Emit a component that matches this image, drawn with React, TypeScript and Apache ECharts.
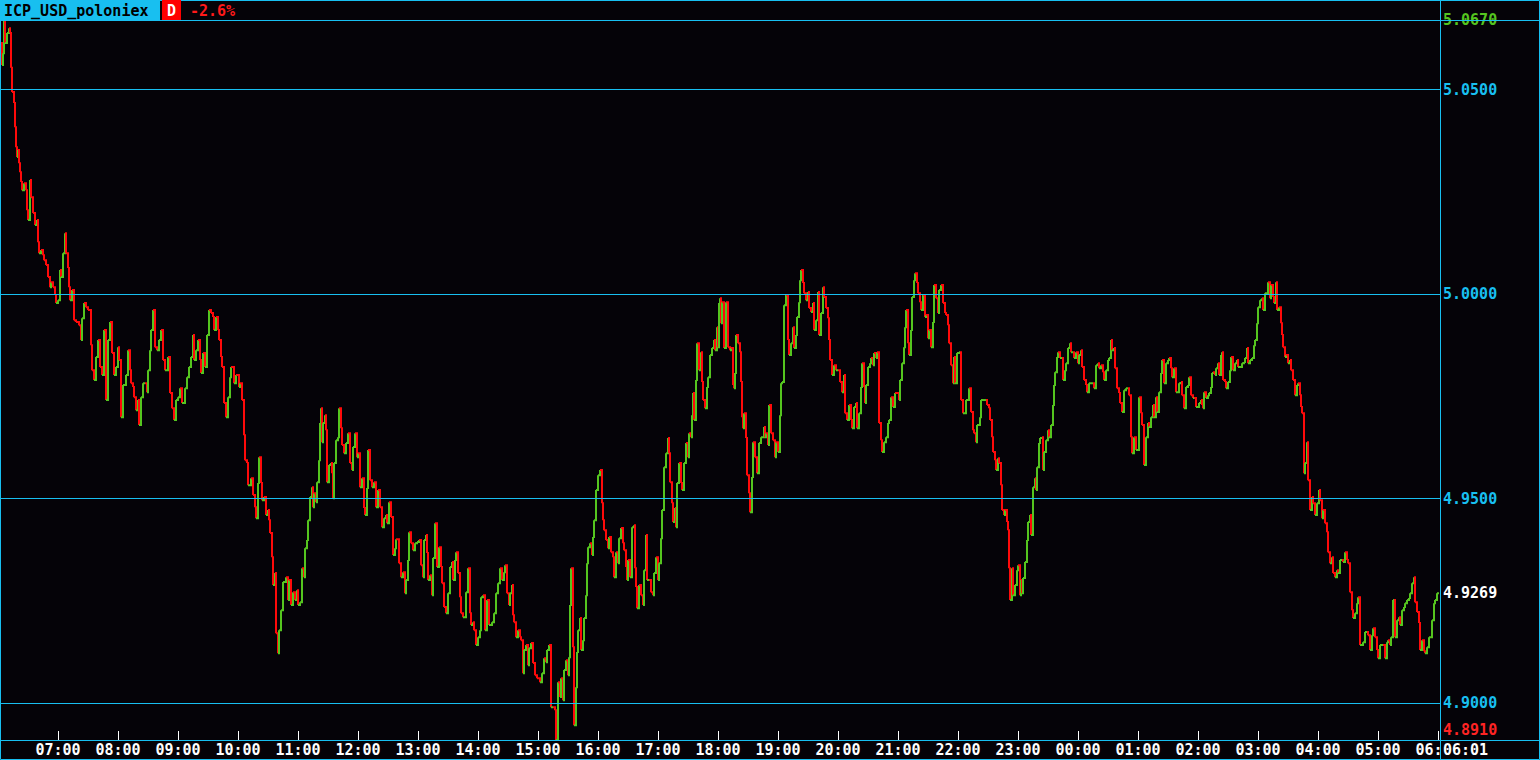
import { useEffect, useRef } from 'react';
import * as echarts from 'echarts';

// ---- texts ----
const SYMBOL = 'ICP_USD_poloniex';
const PERIOD = 'D';
const CHANGE = '-2.6%';
const LAST_TIME = '06:01';

// ---- axes (x in minutes counted from 06:00 of the first day) ----
const X_MIN = 3;
const X_MAX = 1442;
const HOUR_TICKS = [60, 120, 180, 240, 300, 360, 420, 480, 540, 600, 660, 720, 780, 840, 900, 960, 1020, 1080, 1140, 1200, 1260, 1320, 1380, 1440];
const PRICE_MIN = 4.891;
const PRICE_MAX = 5.067;
const PRICE_LAST = 4.9269;
const PRICE_GRID = [4.9, 4.95, 5.0, 5.05];

// ---- price series: [minute, price] ----
const prices0603: [number, number][] = [[3,5.0614],[4,5.0560],[5,5.0589],[6,5.0670],[7,5.0614],[9,5.0638],[11,5.0650],[12,5.0638],[13,5.0553],[14,5.0494],[16,5.0467],[17,5.0408],[18,5.0359],[19,5.0335],[20,5.0352],[21,5.0320],[22,5.0298],[23,5.0274],[24,5.0254],[26,5.0271],[28,5.0254],[29,5.0205],[30,5.0181],[32,5.0279],[33,5.0237],[35,5.0198],[37,5.0169],[39,5.0181],[40,5.0127],[41,5.0100],[43,5.0108],[45,5.0095],[46,5.0083],[48,5.0071],[50,5.0042],[52,5.0017],[53,5.0029],[55,5.0017],[57,4.9998],[58,4.9978],[60,4.9985],[62,5.0059],[63,5.0042],[65,5.0100],[67,5.0149],[68,5.0100],[70,5.0064],[71,5.0017],[72,4.9985],[74,5.0010],[76,4.9936],[78,4.9932],[81,4.9924],[83,4.9888],[84,4.9941],[86,4.9978],[88,4.9968],[90,4.9961],[93,4.9875],[94,4.9814],[96,4.9790],[98,4.9846],[100,4.9888],[102,4.9822],[104,4.9802],[106,4.9912],[108,4.9741],[110,4.9888],[112,4.9932],[114,4.9856],[116,4.9802],[118,4.9822],[120,4.9870],[121,4.9839],[123,4.9699],[125,4.9778],[128,4.9802],[130,4.9863],[132,4.9814],[133,4.9782],[135,4.9773],[136,4.9748],[138,4.9716],[140,4.9741],[141,4.9680],[143,4.9748],[145,4.9782],[147,4.9782],[149,4.9760],[150,4.9814],[152,4.9863],[153,4.9912],[155,4.9961],[157,4.9870],[159,4.9863],[161,4.9888],[163,4.9912],[165,4.9839],[167,4.9814],[170,4.9846],[172,4.9758],[174,4.9721],[176,4.9692],[178,4.9741],[180,4.9748],[182,4.9770],[184,4.9734],[187,4.9770],[189,4.9797],[191,4.9822],[193,4.9846],[195,4.9900],[196,4.9839],[198,4.9863],[200,4.9888],[202,4.9839],[203,4.9807],[205,4.9856],[207,4.9822],[209,4.9900],[211,4.9961],[213,4.9954],[215,4.9944],[216,4.9912],[218,4.9944],[220,4.9912],[221,4.9888],[223,4.9846],[224,4.9822],[226,4.9734],[228,4.9699],[230,4.9748],[232,4.9797],[233,4.9822],[236,4.9782],[238,4.9802],[241,4.9773]];

const prices1002: [number, number][] = [[242,4.9782],[244,4.9741],[246,4.9655],[247,4.9594],[249,4.9587],[250,4.9533],[253,4.9550],[255,4.9509],[257,4.9479],[258,4.9452],[260,4.9538],[261,4.9601],[263,4.9538],[264,4.9496],[266,4.9504],[268,4.9460],[270,4.9472],[271,4.9447],[272,4.9416],[274,4.9357],[275,4.9289],[277,4.9318],[278,4.9171],[280,4.9122],[281,4.9178],[283,4.9227],[285,4.9296],[288,4.9308],[290,4.9252],[291,4.9301],[293,4.9240],[295,4.9271],[297,4.9252],[299,4.9276],[300,4.9240],[302,4.9247],[304,4.9330],[306,4.9308],[307,4.9379],[309,4.9399],[310,4.9447],[312,4.9504],[314,4.9528],[315,4.9479],[316,4.9513],[318,4.9491],[319,4.9540],[321,4.9594],[322,4.9685],[323,4.9721],[324,4.9638],[325,4.9685],[327,4.9704],[328,4.9667],[329,4.9540],[331,4.9582],[333,4.9587],[334,4.9562],[335,4.9501],[336,4.9587],[338,4.9643],[340,4.9650],[341,4.9721],[343,4.9672],[344,4.9631],[346,4.9611],[348,4.9636],[350,4.9660],[352,4.9587],[354,4.9570],[355,4.9626],[357,4.9660],[359,4.9601],[360,4.9611],[362,4.9528],[364,4.9550],[366,4.9477],[367,4.9460],[369,4.9526],[370,4.9619],[372,4.9545],[374,4.9528],[376,4.9540],[378,4.9479],[380,4.9521],[382,4.9479],[384,4.9430],[386,4.9452],[388,4.9460],[389,4.9440],[391,4.9491],[393,4.9455],[395,4.9362],[397,4.9379],[398,4.9401],[401,4.9342],[403,4.9308],[405,4.9320],[407,4.9269],[408,4.9301],[410,4.9350],[411,4.9418],[413,4.9391],[415,4.9374],[417,4.9391],[419,4.9394],[421,4.9399],[423,4.9337],[425,4.9308],[426,4.9399],[428,4.9411],[429,4.9367],[430,4.9301],[432,4.9313],[434,4.9264],[435,4.9355],[437,4.9440],[439,4.9333],[441,4.9381],[443,4.9333],[444,4.9293],[446,4.9235],[448,4.9220],[450,4.9269],[452,4.9333],[454,4.9345],[455,4.9301],[457,4.9350],[458,4.9369],[460,4.9318],[462,4.9259],[463,4.9220],[465,4.9210],[468,4.9271],[470,4.9330],[472,4.9220],[473,4.9191],[475,4.9198],[476,4.9178],[478,4.9142],[480,4.9161],[482,4.9178]];

const prices1403: [number, number][] = [[483,4.9259],[485,4.9264],[487,4.9178],[489,4.9252],[491,4.9191],[494,4.9198],[496,4.9220],[498,4.9269],[500,4.9293],[502,4.9330],[504,4.9301],[506,4.9320],[507,4.9337],[509,4.9269],[511,4.9240],[512,4.9269],[514,4.9289],[515,4.9215],[516,4.9198],[518,4.9161],[520,4.9178],[522,4.9161],[523,4.9154],[525,4.9073],[526,4.9130],[528,4.9142],[530,4.9093],[531,4.9134],[533,4.9147],[535,4.9098],[537,4.9068],[539,4.9061],[542,4.9051],[544,4.9073],[546,4.9110],[548,4.9100],[549,4.9130],[551,4.9142],[553,4.8990],[555,4.8990],[557,4.8983],[558,4.8910],[560,4.9051],[562,4.9015],[563,4.9061],[565,4.9007],[566,4.9081],[568,4.9105],[570,4.9068],[571,4.9112],[572,4.9240],[573,4.9330],[575,4.9137],[576,4.8946],[578,4.9039],[579,4.9125],[580,4.9178],[582,4.9208],[583,4.9130],[585,4.9154],[586,4.9208],[588,4.9264],[589,4.9342],[590,4.9381],[592,4.9391],[594,4.9362],[595,4.9406],[596,4.9447],[598,4.9521],[600,4.9557],[602,4.9570],[604,4.9489],[605,4.9447],[606,4.9423],[608,4.9399],[610,4.9379],[611,4.9406],[613,4.9369],[615,4.9357],[616,4.9308],[618,4.9369],[620,4.9342],[621,4.9403],[623,4.9428],[625,4.9391],[626,4.9374],[628,4.9333],[629,4.9301],[630,4.9350],[632,4.9308],[634,4.9430],[636,4.9435],[637,4.9330],[638,4.9284],[639,4.9232],[641,4.9289],[643,4.9264],[645,4.9240],[646,4.9325],[648,4.9411],[649,4.9301],[651,4.9301],[653,4.9271],[655,4.9264],[656,4.9318],[658,4.9357],[660,4.9301],[661,4.9342],[663,4.9403],[664,4.9472],[666,4.9577],[668,4.9611],[670,4.9648],[671,4.9611],[672,4.9540],[674,4.9489],[675,4.9443],[677,4.9477],[678,4.9430],[679,4.9538],[681,4.9587],[683,4.9538],[684,4.9521],[686,4.9587],[688,4.9636],[690,4.9601],[691,4.9660],[693,4.9650],[694,4.9704],[695,4.9758],[696,4.9692],[698,4.9790],[699,4.9880],[701,4.9814],[703,4.9858],[704,4.9785],[705,4.9741],[707,4.9721],[709,4.9773],[710,4.9797],[712,4.9851],[714,4.9868],[716,4.9888],[717,4.9863],[719,4.9919],[720,4.9870],[721,4.9978]];

const prices1802: [number, number][] = [[722,4.9990],[723,4.9929],[724,4.9980],[726,4.9868],[728,4.9980],[730,4.9870],[732,4.9863],[733,4.9868],[735,4.9778],[736,4.9770],[737,4.9807],[738,4.9900],[740,4.9880],[742,4.9858],[743,4.9785],[744,4.9699],[745,4.9672],[746,4.9709],[748,4.9648],[749,4.9557],[751,4.9513],[752,4.9467],[754,4.9553],[755,4.9638],[757,4.9601],[759,4.9562],[761,4.9636],[763,4.9650],[766,4.9675],[767,4.9650],[768,4.9660],[770,4.9631],[771,4.9729],[773,4.9660],[775,4.9643],[777,4.9601],[778,4.9638],[780,4.9614],[782,4.9704],[783,4.9782],[784,4.9785],[786,4.9973],[788,4.9998],[790,4.9888],[791,4.9851],[793,4.9880],[795,4.9919],[796,4.9868],[798,4.9900],[799,4.9944],[801,4.9980],[802,5.0034],[803,5.0059],[805,5.0027],[806,5.0002],[808,4.9985],[810,5.0005],[811,4.9966],[813,4.9956],[815,4.9978],[816,4.9912],[818,4.9936],[820,5.0005],[821,4.9900],[823,4.9954],[825,5.0017],[826,4.9993],[828,4.9966],[830,4.9941],[831,4.9888],[832,4.9839],[834,4.9802],[836,4.9826],[838,4.9814],[840,4.9814],[842,4.9785],[844,4.9760],[846,4.9802],[847,4.9709],[849,4.9692],[851,4.9729],[853,4.9692],[854,4.9672],[856,4.9724],[858,4.9734],[859,4.9672],[861,4.9709],[863,4.9773],[864,4.9831],[866,4.9773],[867,4.9734],[868,4.9778],[870,4.9822],[872,4.9831],[873,4.9844],[875,4.9826],[876,4.9856],[878,4.9844],[879,4.9858],[881,4.9685],[883,4.9643],[884,4.9614],[886,4.9638],[888,4.9650],[890,4.9685],[891,4.9692],[893,4.9748],[895,4.9724],[897,4.9758],[901,4.9741],[902,4.9790],[904,4.9831],[906,4.9870],[907,4.9919],[908,4.9961],[910,4.9880],[911,4.9851],[913,4.9912],[914,4.9993],[916,5.0034],[917,5.0051],[919,5.0027],[920,5.0002],[922,4.9980],[923,4.9961],[925,4.9998],[927,4.9944],[928,4.9949],[930,4.9892],[931,4.9912],[933,4.9870],[935,4.9932],[936,5.0022],[938,4.9990],[940,4.9954],[941,5.0010],[943,5.0022],[945,4.9978],[947,4.9954],[948,4.9949],[950,4.9924],[951,4.9880],[953,4.9826],[955,4.9782],[956,4.9846],[957,4.9782],[959,4.9856],[961,4.9858]];

const prices2202: [number, number][] = [[962,4.9858],[963,4.9741],[965,4.9709],[968,4.9741],[970,4.9741],[971,4.9770],[973,4.9712],[975,4.9667],[976,4.9660],[978,4.9638],[979,4.9680],[982,4.9699],[983,4.9741],[985,4.9741],[988,4.9741],[989,4.9729],[991,4.9721],[992,4.9692],[994,4.9650],[995,4.9614],[997,4.9594],[998,4.9570],[1000,4.9599],[1001,4.9587],[1003,4.9533],[1004,4.9472],[1006,4.9460],[1007,4.9472],[1009,4.9443],[1010,4.9423],[1011,4.9330],[1012,4.9252],[1014,4.9330],[1015,4.9264],[1017,4.9289],[1019,4.9325],[1020,4.9337],[1022,4.9264],[1023,4.9301],[1024,4.9269],[1025,4.9306],[1027,4.9345],[1029,4.9399],[1030,4.9443],[1032,4.9460],[1033,4.9411],[1035,4.9528],[1037,4.9550],[1038,4.9521],[1039,4.9577],[1041,4.9636],[1042,4.9648],[1044,4.9650],[1045,4.9570],[1046,4.9614],[1048,4.9643],[1050,4.9667],[1051,4.9650],[1053,4.9680],[1055,4.9729],[1056,4.9778],[1057,4.9809],[1059,4.9846],[1060,4.9858],[1062,4.9844],[1064,4.9844],[1065,4.9790],[1067,4.9814],[1068,4.9831],[1070,4.9868],[1072,4.9880],[1073,4.9858],[1075,4.9858],[1076,4.9844],[1078,4.9858],[1080,4.9831],[1081,4.9851],[1083,4.9863],[1084,4.9822],[1086,4.9790],[1088,4.9778],[1089,4.9760],[1091,4.9782],[1093,4.9782],[1095,4.9782],[1096,4.9770],[1098,4.9826],[1100,4.9831],[1101,4.9819],[1103,4.9826],[1105,4.9809],[1106,4.9790],[1108,4.9814],[1110,4.9839],[1111,4.9844],[1113,4.9888],[1114,4.9863],[1116,4.9868],[1117,4.9819],[1119,4.9770],[1121,4.9758],[1122,4.9734],[1124,4.9712],[1126,4.9765],[1128,4.9770],[1130,4.9770],[1131,4.9753],[1133,4.9650],[1134,4.9611],[1136,4.9650],[1138,4.9619],[1140,4.9619],[1141,4.9748],[1143,4.9709],[1144,4.9680],[1146,4.9582],[1148,4.9650],[1150,4.9685],[1151,4.9675],[1153,4.9699],[1155,4.9729],[1156,4.9699],[1158,4.9748],[1159,4.9712],[1161,4.9760],[1163,4.9807],[1164,4.9839],[1166,4.9782],[1168,4.9831],[1170,4.9839],[1171,4.9844],[1173,4.9819],[1174,4.9797],[1176,4.9819],[1178,4.9760],[1180,4.9760],[1181,4.9782],[1183,4.9785],[1184,4.9753],[1186,4.9721],[1188,4.9773],[1190,4.9778],[1191,4.9797],[1193,4.9753],[1195,4.9746],[1196,4.9746],[1198,4.9724],[1200,4.9724],[1201,4.9734]];

const prices0203: [number, number][] = [[1203,4.9741],[1204,4.9729],[1205,4.9721],[1206,4.9760],[1208,4.9746],[1210,4.9753],[1211,4.9758],[1213,4.9773],[1214,4.9807],[1215,4.9809],[1217,4.9802],[1218,4.9819],[1220,4.9831],[1221,4.9802],[1223,4.9851],[1224,4.9858],[1225,4.9790],[1227,4.9785],[1228,4.9770],[1230,4.9785],[1232,4.9814],[1233,4.9846],[1235,4.9814],[1237,4.9831],[1239,4.9839],[1240,4.9822],[1242,4.9822],[1244,4.9831],[1246,4.9834],[1247,4.9844],[1249,4.9868],[1250,4.9831],[1252,4.9839],[1254,4.9844],[1256,4.9875],[1257,4.9888],[1259,4.9929],[1260,4.9968],[1262,4.9985],[1264,4.9990],[1265,4.9961],[1267,5.0002],[1269,5.0002],[1270,5.0029],[1272,4.9990],[1273,5.0022],[1275,4.9993],[1276,4.9978],[1278,5.0029],[1279,4.9961],[1281,4.9968],[1283,4.9929],[1284,4.9900],[1285,4.9870],[1287,4.9846],[1288,4.9851],[1290,4.9831],[1292,4.9839],[1293,4.9814],[1295,4.9790],[1297,4.9753],[1299,4.9778],[1300,4.9782],[1302,4.9753],[1303,4.9724],[1304,4.9709],[1306,4.9562],[1307,4.9587],[1309,4.9638],[1310,4.9545],[1312,4.9472],[1314,4.9504],[1315,4.9489],[1317,4.9460],[1319,4.9489],[1321,4.9521],[1322,4.9496],[1324,4.9452],[1325,4.9472],[1327,4.9440],[1329,4.9418],[1330,4.9369],[1332,4.9342],[1334,4.9357],[1335,4.9318],[1337,4.9308],[1339,4.9325],[1340,4.9318],[1342,4.9350],[1344,4.9350],[1345,4.9345],[1347,4.9369],[1349,4.9350],[1350,4.9342],[1352,4.9271],[1354,4.9227],[1355,4.9208],[1357,4.9220],[1359,4.9244],[1360,4.9259],[1362,4.9142],[1364,4.9142],[1365,4.9149],[1367,4.9174],[1369,4.9174],[1370,4.9166],[1372,4.9130],[1374,4.9166],[1375,4.9183],[1377,4.9161],[1379,4.9130],[1380,4.9110],[1382,4.9142],[1384,4.9142],[1385,4.9142],[1387,4.9110],[1389,4.9149],[1390,4.9154],[1392,4.9142],[1393,4.9161],[1395,4.9252],[1396,4.9252],[1397,4.9161],[1399,4.9203],[1401,4.9210],[1402,4.9191],[1404,4.9227],[1406,4.9235],[1407,4.9244],[1409,4.9252],[1411,4.9257],[1412,4.9269],[1414,4.9293],[1416,4.9308],[1417,4.9247],[1419,4.9223],[1421,4.9196],[1422,4.9130],[1424,4.9154],[1426,4.9127],[1427,4.9122],[1429,4.9137],[1431,4.9161],[1432,4.9161],[1434,4.9203],[1436,4.9244],[1437,4.9252],[1439,4.9269],[1441,4.9269]];

// ---- styles ----
const W = 1540;
const H = 760;
const BG = '#050308';
const CYAN = '#18bff0';
const GREEN = '#55c51f';
const RED = '#ff0a0a';
const WHITE = '#ffffff';
const FONT = '"DejaVu Sans Mono", "Liberation Mono", monospace';
const FS = 15;
const FW = 'bold';

function fmtHour(v: number): string {
  const h = (Math.round(v / 60) + 6) % 24;
  const s = (h < 10 ? '0' : '') + h + ':00';
  // the last hour label sits under the current-time tag; only its left part shows
  if (v === HOUR_TICKS[HOUR_TICKS.length - 1]) return '{cut|' + s.slice(0, 3) + '}';
  return s;
}

export default function App() {
  const ref = useRef<HTMLDivElement>(null);

  useEffect(() => {
    document.body.style.margin = '0';
    document.body.style.background = BG;
    const el = ref.current;
    if (!el) return;
    const chart = echarts.init(el, null, { renderer: 'svg' });

    const all = [...prices0603, ...prices1002, ...prices1403, ...prices1802, ...prices2202, ...prices0203];
    const steps = all.map((d, i) => {
      const prev = i > 0 ? all[i - 1] : d;
      return [d[0], d[1], prev[0], prev[1]];
    });

    const near = (a: number, b: number) => Math.abs(a - b) < 1e-6;
    const font = `${FW} ${FS}px ${FONT}`;

    const option: any = {
      animation: false,
      backgroundColor: BG,
      textStyle: { fontFamily: FONT, fontSize: FS, fontWeight: FW },
      grid: { left: 1, right: W - 1440, top: 20, bottom: H - 740, containLabel: false },
      xAxis: {
        type: 'value',
        min: X_MIN,
        max: X_MAX,
        axisLine: { show: false },
        splitLine: { show: false },
        axisTick: {
          show: true,
          inside: true,
          length: 9,
          customValues: HOUR_TICKS,
          lineStyle: { color: WHITE, width: 1 },
        },
        axisLabel: {
          show: true,
          customValues: HOUR_TICKS,
          formatter: (v: number) => fmtHour(v),
          color: WHITE,
          fontFamily: FONT,
          fontSize: FS,
          fontWeight: FW,
          margin: 2,
          rich: {
            cut: { color: WHITE, fontFamily: FONT, fontSize: FS, fontWeight: FW, padding: [0, 18, 0, 0] },
          },
        },
      },
      yAxis: {
        type: 'value',
        position: 'right',
        min: PRICE_MIN,
        max: PRICE_MAX,
        axisLine: { show: false },
        axisTick: { show: false },
        splitLine: { show: false },
        axisLabel: {
          show: true,
          customValues: [PRICE_MIN, ...PRICE_GRID, PRICE_LAST, PRICE_MAX],
          margin: 3,
          fontFamily: FONT,
          fontSize: FS,
          fontWeight: FW,
          formatter: (v: number) => {
            const s = v.toFixed(4);
            if (near(v, PRICE_MAX)) return '{hi|' + s + '}';
            if (near(v, PRICE_MIN)) return '{lo|' + s + '}';
            if (near(v, PRICE_LAST)) return '{last|' + s + '}';
            return '{grid|' + s + '}';
          },
          rich: {
            hi: { color: GREEN, fontFamily: FONT, fontSize: FS, fontWeight: FW },
            lo: { color: '#ff2424', fontFamily: FONT, fontSize: FS, fontWeight: FW, padding: [0, 0, 20, 0] },
            last: { color: WHITE, fontFamily: FONT, fontSize: FS, fontWeight: FW },
            grid: { color: CYAN, fontFamily: FONT, fontSize: FS, fontWeight: FW },
          },
        },
      },
      series: [
        {
          type: 'line',
          data: [],
          silent: true,
          z: 1,
          markLine: {
            silent: true,
            symbol: ['none', 'none'],
            label: { show: false },
            lineStyle: { color: CYAN, type: 'solid', width: 1 },
            emphasis: { disabled: true },
            data: PRICE_GRID.map((v) => ({ yAxis: v })),
          },
        },
        {
          type: 'custom',
          z: 2,
          clip: true,
          silent: true,
          encode: { x: 0, y: 1 },
          data: steps,
          renderItem: (_params: any, api: any) => {
            const m = api.value(0);
            const p = api.value(1);
            const pm = api.value(2);
            const pp = api.value(3);
            const a = api.coord([pm, pp]);
            const b = api.coord([m, p]);
            const up = p >= pp;
            return {
              type: 'polyline',
              shape: { points: [a, [b[0], a[1]], b] },
              style: { stroke: up ? GREEN : RED, lineWidth: 2, fill: null },
            };
          },
        },
      ],
      graphic: [
        { type: 'line', z: 100, silent: true, shape: { x1: 0, y1: 20.5, x2: W, y2: 20.5 }, style: { stroke: CYAN, lineWidth: 1 } },
        { type: 'line', z: 100, silent: true, shape: { x1: 0, y1: 740.5, x2: W, y2: 740.5 }, style: { stroke: CYAN, lineWidth: 1 } },
        { type: 'rect', z: 100, silent: true, shape: { x: 1441, y: 741, width: W - 1442, height: H - 742 }, style: { fill: BG } },
        { type: 'line', z: 101, silent: true, shape: { x1: 1440.5, y1: 0, x2: 1440.5, y2: H }, style: { stroke: CYAN, lineWidth: 1 } },
        { type: 'rect', z: 101, silent: true, shape: { x: 0.5, y: 0.5, width: W - 1, height: H - 1 }, style: { fill: 'none', stroke: CYAN, lineWidth: 1 } },
        { type: 'text', z: 102, silent: true, x: 1443, y: 750, style: { text: LAST_TIME, fill: WHITE, font, verticalAlign: 'middle', align: 'left' } },
        { type: 'rect', z: 102, silent: true, shape: { x: 0, y: 0, width: 160, height: 20 }, style: { fill: CYAN } },
        { type: 'text', z: 103, silent: true, x: 4, y: 10.5, style: { text: SYMBOL, fill: '#000000', font, verticalAlign: 'middle', align: 'left' } },
        { type: 'rect', z: 102, silent: true, shape: { x: 162, y: 0, width: 19, height: 20 }, style: { fill: '#ff0000' } },
        { type: 'text', z: 103, silent: true, x: 171.5, y: 10.5, style: { text: PERIOD, fill: WHITE, font, verticalAlign: 'middle', align: 'center' } },
        { type: 'text', z: 103, silent: true, x: 190, y: 10.5, style: { text: CHANGE, fill: '#ff1a1a', font, verticalAlign: 'middle', align: 'left' } },
      ],
    };

    chart.setOption(option);
    return () => {
      chart.dispose();
    };
  }, []);

  return <div ref={ref} style={{ position: 'fixed', left: 0, top: 0, width: W, height: H }} />;
}
